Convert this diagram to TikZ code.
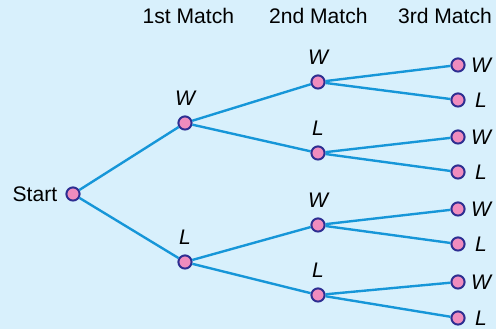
\documentclass[tikz,border=0pt]{standalone}
\usepackage{fontspec}
\setmainfont{Liberation Sans}
\usetikzlibrary{positioning, backgrounds}
\definecolor{bgblue}{RGB}{216,240,252}
\definecolor{edgeblue}{RGB}{22,150,216}
\definecolor{nodepink}{RGB}{240,140,190}
\definecolor{nodeborder}{RGB}{46,46,146}

\begin{document}
\begin{tikzpicture}[
    outcome/.style={circle, draw=nodeborder, fill=nodepink, line width=1.4pt, minimum size=0.33cm, inner sep=0pt},
    branch/.style={draw=edgeblue, line width=1.7pt},
    res/.style={inner sep=0pt, font=\fontsize{15}{18}\selectfont\itshape},
    up/.style={label={[res, label distance=0.25cm]above:#1}},
    side/.style={label={[res, minimum width=0.5cm, label distance=0.13cm]right:#1}},
    font=\fontsize{15}{18}\selectfont
]

% background
\fill[bgblue] (0,0) rectangle (12.4,8.225);
\useasboundingbox (0,0) rectangle (12.4,8.225);

% column headings
\node (h1) at (4.71,7.825) {1st Match};
\node (h2) at (7.96,7.825) {2nd Match};
\node (h3) at (11.125,7.825) {3rd Match};

% root
\node[outcome, label={[inner sep=0pt, label distance=0.2cm]left:Start}] (s) at (1.825,3.375) {};

% 1st match
\node[outcome, up=W] (w) at (4.625,5.15) {};
\node[outcome, up=L] (l) at (4.625,1.675) {};

% 2nd match
\node[outcome, up=W] (ww) at (7.95,6.175) {};
\node[outcome, up=L] (wl) at (7.95,4.4) {};
\node[outcome, up=W] (lw) at (7.95,2.6) {};
\node[outcome, up=L] (ll) at (7.95,0.85) {};

% 3rd match
\node[outcome, side=W] (www) at (11.45,6.6) {};
\node[outcome, side=L] (wwl) at (11.45,5.725) {};
\node[outcome, side=W] (wlw) at (11.45,4.8) {};
\node[outcome, side=L] (wll) at (11.45,3.925) {};
\node[outcome, side=W] (lww) at (11.45,3.0) {};
\node[outcome, side=L] (lwl) at (11.45,2.125) {};
\node[outcome, side=W] (llw) at (11.45,1.175) {};
\node[outcome, side=L] (lll) at (11.45,0.275) {};

% branches
\draw[branch] (s) -- (w);
\draw[branch] (s) -- (l);

\draw[branch] (w) -- (ww);
\draw[branch] (w) -- (wl);
\draw[branch] (l) -- (lw);
\draw[branch] (l) -- (ll);

\draw[branch] (ww) -- (www);
\draw[branch] (ww) -- (wwl);
\draw[branch] (wl) -- (wlw);
\draw[branch] (wl) -- (wll);
\draw[branch] (lw) -- (lww);
\draw[branch] (lw) -- (lwl);
\draw[branch] (ll) -- (llw);
\draw[branch] (ll) -- (lll);

\end{tikzpicture}
\end{document}
